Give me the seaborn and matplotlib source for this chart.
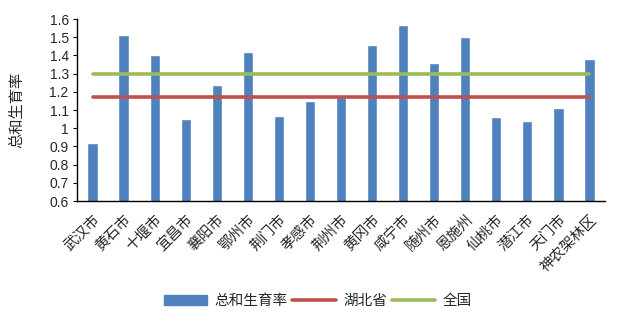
import matplotlib
matplotlib.use("Agg")
import matplotlib.pyplot as plt
import seaborn as sns
import pandas as pd
from matplotlib.patches import Patch
from matplotlib.lines import Line2D

cities = ["武汉市", "黄石市", "十堰市", "宜昌市", "襄阳市", "鄂州市", "荆门市", "孝感市",
          "荆州市", "黄冈市", "咸宁市", "随州市", "恩施州", "仙桃市", "潜江市", "天门市", "神农架林区"]
tfr = [0.92, 1.51, 1.40, 1.05, 1.24, 1.42, 1.07, 1.15,
       1.17, 1.46, 1.57, 1.36, 1.50, 1.06, 1.04, 1.11, 1.38]
hubei = [1.17] * len(cities)
national = [1.30] * len(cities)
yticks = [0.6, 0.7, 0.8, 0.9, 1, 1.1, 1.2, 1.3, 1.4, 1.5, 1.6]
ytick_labels = ["0.6", "0.7", "0.8", "0.9", "1", "1.1", "1.2", "1.3", "1.4", "1.5", "1.6"]

sns.set_theme(style="white")
plt.rcParams["font.family"] = ["Liberation Sans", "Noto Sans CJK SC", "DejaVu Sans"]

df = pd.DataFrame({"city": cities, "tfr": tfr, "hubei": hubei, "national": national})
df["pos"] = range(len(cities))

fig = plt.figure(figsize=(6.23, 3.29), dpi=100)
ax = fig.add_axes([0.1236, 0.389, 0.8475, 0.553])

blue, red, green = "#4F81BD", "#C0504D", "#9BBB59"

sns.barplot(data=df, x="pos", y="tfr", color=blue, width=0.33, ax=ax,
            native_scale=True, saturation=1)
sns.lineplot(data=df, x="pos", y="hubei", color=red, linewidth=2.6, ax=ax)
sns.lineplot(data=df, x="pos", y="national", color=green, linewidth=2.6, ax=ax)

ax.set_xlim(-0.5, len(cities) - 0.5)
ax.set_ylim(0.6, 1.6)
ax.set_yticks(yticks)
ax.set_yticklabels(ytick_labels, fontsize=10)
ax.set_xticks(range(len(cities)))
ax.set_xticklabels(cities, rotation=45, ha="right", rotation_mode="anchor", fontsize=10.5)
for lbl in ax.get_xticklabels():
    lbl.set_transform(lbl.get_transform() + matplotlib.transforms.ScaledTranslation(6 / 72, -6 / 72, fig.dpi_scale_trans))
ax.set_xlabel("")
ax.set_ylabel("总和生育率", fontsize=11, labelpad=18)

for s in ("top", "right"):
    ax.spines[s].set_visible(False)
for s in ("left", "bottom"):
    ax.spines[s].set_color("black")
    ax.spines[s].set_linewidth(1.0)
ax.tick_params(axis="y", which="major", left=True, length=3, width=0.8, color="black", pad=3)
ax.tick_params(axis="x", bottom=False, pad=2)

handles = [Patch(facecolor=blue, edgecolor=blue),
           Line2D([0], [0], color=red, linewidth=2.6),
           Line2D([0], [0], color=green, linewidth=2.6)]
fig.legend(handles, ["总和生育率", "湖北省", "全国"], loc="center", bbox_to_anchor=(0.51, 0.085),
           ncol=3, frameon=False, fontsize=10.5, handlelength=3.0, handletextpad=0.5,
           columnspacing=0.3)

fig.savefig("out.png", dpi=100)
